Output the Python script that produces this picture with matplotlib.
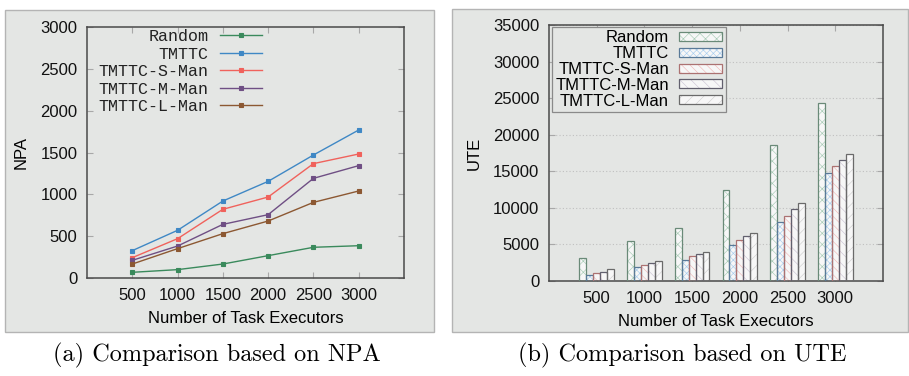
import matplotlib
matplotlib.use("Agg")
import matplotlib.pyplot as plt
from matplotlib.patches import Rectangle, Patch
import numpy as np

# ---------------- data ----------------
executors = [500, 1000, 1500, 2000, 2500, 3000]
series = ["Random", "TMTTC", "TMTTC-S-Man", "TMTTC-M-Man", "TMTTC-L-Man"]

npa_random = [68, 100, 167, 267, 367, 386]
npa_tmttc = [327, 570, 920, 1155, 1470, 1769]
npa_sman = [243, 470, 821, 968, 1367, 1482]
npa_mman = [211, 382, 641, 757, 1191, 1343]
npa_lman = [167, 351, 530, 681, 904, 1040]

ute_random = [3100, 5470, 7200, 12400, 18550, 24290]
ute_tmttc = [820, 1960, 2870, 4880, 8020, 14770]
ute_sman = [1050, 2140, 3420, 5610, 8890, 15720]
ute_mman = [1190, 2420, 3650, 6110, 9850, 16500]
ute_lman = [1600, 2690, 3920, 6520, 10620, 17320]

npa_yticks = [0, 500, 1000, 1500, 2000, 2500, 3000]
ute_yticks = [0, 5000, 10000, 15000, 20000, 25000, 30000, 35000]

caption_a = "(a) Comparison based on NPA"
caption_b = "(b) Comparison based on UTE"
xlabel = "Number of Task Executors"

# ---------------- style ----------------
W, H = 909, 376
BG = "#e4e6e4"
SANS = "Liberation Sans"
MONO = "Liberation Mono"
plt.rcParams["font.family"] = [SANS, "DejaVu Sans"]
plt.rcParams["hatch.linewidth"] = 0.45

fig = plt.figure(figsize=(W / 100, H / 100), dpi=100)
fig.patch.set_facecolor("white")


def px_rect(x0, y0, x1, y1):
    return [x0 / W, 1 - y1 / H, (x1 - x0) / W, (y1 - y0) / H]


# panel backgrounds
for (x0, y0, x1, y1) in [(5, 10, 434, 332), (452, 9, 908, 332)]:
    fig.patches.append(Rectangle((x0 / W, 1 - y1 / H), (x1 - x0) / W, (y1 - y0) / H,
                                 transform=fig.transFigure, facecolor=BG,
                                 edgecolor="#b4b4b4", linewidth=1.0, zorder=-10))

line_colors = ["#3a8a5c", "#3f88c5", "#f0625c", "#6f4f84", "#8c5832"]


def style_axes(ax):
    ax.set_facecolor(BG)
    for s in ax.spines.values():
        s.set_color("#4a4a4a")
        s.set_linewidth(1.1)
    ax.tick_params(direction="in", length=4, width=0.8, color="#a8a8a8",
                   top=True, right=True, labelsize=12, pad=7, labelcolor="#111111")


# ---------------- left: NPA lines ----------------
ax1 = fig.add_axes(px_rect(87, 27, 404, 278))
style_axes(ax1)
npa_all = [npa_random, npa_tmttc, npa_sman, npa_mman, npa_lman]
for name, vals, c in zip(series, npa_all, line_colors):
    ax1.plot(executors, vals, color=c, lw=1.0, marker="s", ms=3.2, mew=0.8,
             mfc=c, mec=c, label=name)
ax1.set_xlim(0, 3500)
ax1.set_ylim(0, 3000)
ax1.set_xticks(executors)
ax1.set_yticks(npa_yticks)
ax1.set_xlabel(xlabel, fontsize=12, labelpad=6)
ax1.set_ylabel("NPA", fontsize=12, labelpad=8)
leg1 = ax1.legend(loc="upper right", bbox_to_anchor=((262 - 87) / 317, (278 - 29) / 251),
                  frameon=False, markerfirst=False, borderpad=0, borderaxespad=0,
                  handlelength=2.5, handletextpad=0.7, labelspacing=0.15,
                  prop={"family": MONO, "size": 12})
for t in leg1.get_texts():
    t.set_color("#222222")

# ---------------- right: UTE bars ----------------
ax2 = fig.add_axes(px_rect(549, 25, 883, 281))
style_axes(ax2)
ax2.set_axisbelow(True)
ax2.yaxis.grid(True, linestyle=(0, (1, 2)), color="#c0c0c0", linewidth=0.8)
ute_all = [ute_random, ute_tmttc, ute_sman, ute_mman, ute_lman]
hatch_colors = ["#a8ccb6", "#a8cdee", "#f0baba", "#cec6d6", "#d0d0d0"]
edge_colors = ["#6a8a78", "#5a7a98", "#ac7272", "#62606e", "#6a6a6a"]
hatches = ["xxx", "xxxxx", "\\\\\\\\", "\\\\\\", "///"]
xidx = np.arange(1, len(executors) + 1)
bw = 0.145
handles = []
for i, (name, vals) in enumerate(zip(series, ute_all)):
    pos = xidx + (i - 2) * bw
    ax2.bar(pos, vals, width=bw, facecolor="#f7f7f7", edgecolor=hatch_colors[i],
            hatch=hatches[i], linewidth=0, zorder=2)
    ax2.bar(pos, vals, width=bw, fill=False, edgecolor=edge_colors[i],
            linewidth=0.9, zorder=3)
    h1 = Patch(facecolor="#f7f7f7", edgecolor=hatch_colors[i], hatch=hatches[i], linewidth=0)
    h2 = Patch(fill=False, edgecolor=edge_colors[i], linewidth=0.9)
    handles.append((h1, h2))
ax2.set_xlim(0, 7)
ax2.set_ylim(0, 35000)
ax2.set_xticks(xidx)
ax2.set_xticklabels([str(e) for e in executors])
ax2.set_yticks(ute_yticks)
ax2.set_xlabel(xlabel, fontsize=12, labelpad=6)
ax2.set_ylabel("UTE", fontsize=12, labelpad=8)
leg2 = ax2.legend(handles, series, loc="upper left",
                  bbox_to_anchor=((552 - 549) / 334, (281 - 27) / 256),
                  frameon=True, fancybox=False, markerfirst=False, borderpad=0.2,
                  borderaxespad=0, handlelength=2.6, handleheight=0.45,
                  handletextpad=0.6, labelspacing=0.05, fontsize=12)
leg2.get_frame().set_facecolor(BG)
leg2.get_frame().set_edgecolor("#8a8a8a")
leg2.get_frame().set_linewidth(0.9)
leg2.get_frame().set_alpha(1)

# ---------------- captions ----------------
fig.text(217 / W, 1 - 355 / H, caption_a, ha="center", va="center",
         fontsize=17.5, family=["cmr10", "DejaVu Serif"])
fig.text(682 / W, 1 - 355 / H, caption_b, ha="center", va="center",
         fontsize=17.5, family=["cmr10", "DejaVu Serif"])

fig.savefig("out.png", dpi=100, facecolor="white")
